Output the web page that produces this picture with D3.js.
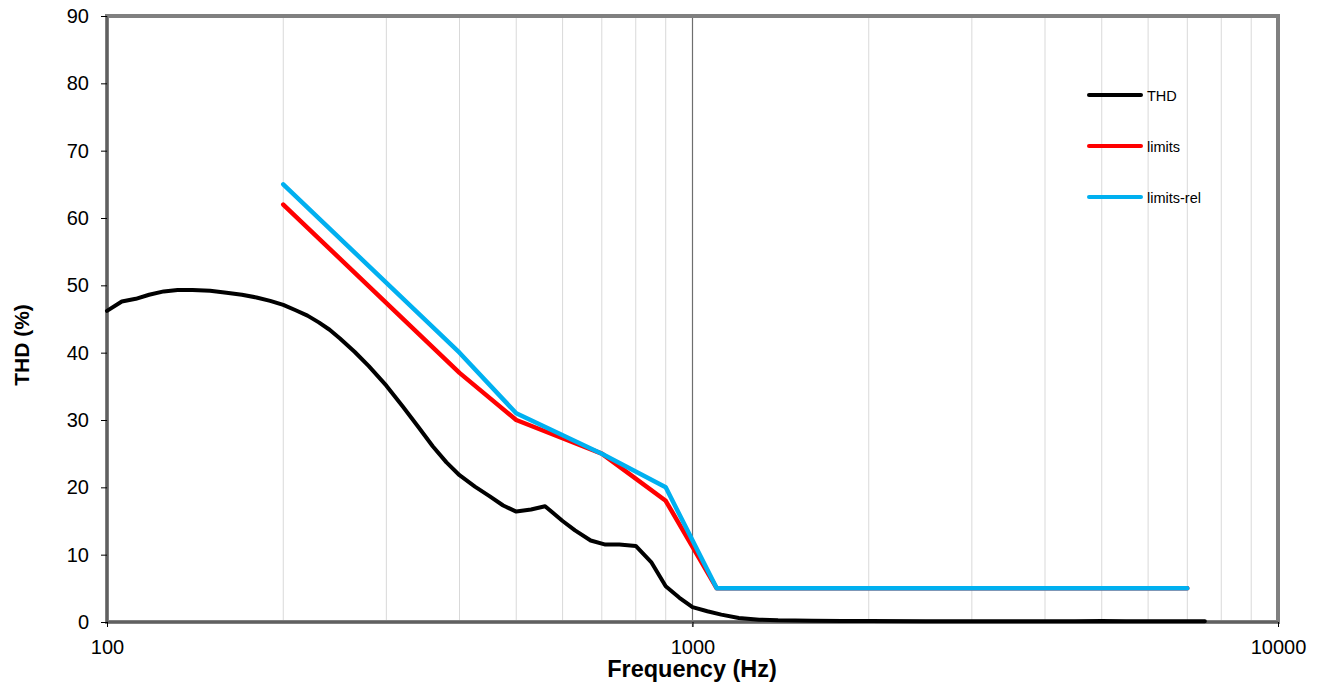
<!DOCTYPE html>
<html><head><meta charset="utf-8">
<script src="https://cdn.jsdelivr.net/npm/d3@7"></script>
<style>body{margin:0;background:#fff}svg{display:block;font-family:"Liberation Sans",Arial,sans-serif}</style>
</head><body><svg id="c" width="1317" height="688"></svg>
<script>
const thdFreq = [100,106,112,118,125,132,140,150,160,170,180,190,200,210,220,230,240,250,265,280,300,320,340,360,380,400,425,450,475,500,530,560,600,630,670,710,750,800,850,900,950,1000,1060,1120,1200,1300,1400,1600,1800,2000,2500,3000,3500,4000,4500,5000,5500,6000,7000,7500];
const thdVal  = [46.2,47.6,48.0,48.6,49.1,49.3,49.3,49.2,48.9,48.6,48.2,47.7,47.1,46.3,45.5,44.5,43.4,42.1,40.1,38.0,35.1,32.0,29.0,26.1,23.7,21.8,20.1,18.7,17.3,16.4,16.7,17.2,15.0,13.6,12.1,11.5,11.5,11.3,8.9,5.3,3.6,2.2,1.6,1.1,0.6,0.35,0.25,0.2,0.15,0.15,0.1,0.1,0.1,0.1,0.1,0.15,0.1,0.1,0.1,0.1];
const limFreq = [200,400,500,700,900,1100,7000];
const limVal  = [62,37,30,25,18,5,5];
const relFreq = [200,400,500,700,900,1100,7000];
const relVal  = [65,40,31,25,20,5,5];
const yTicks = [0,10,20,30,40,50,60,70,80,90];
const xTicks = [100,1000,10000];
const seriesNames = ["THD","limits","limits-rel"];
const seriesColors = ["#000000","#ff0000","#00b0f0"];

const svg = d3.select("#c");
const L=107, R=1278, T=16, B=622;
const x = d3.scaleLog().domain([100,10000]).range([L,R]);
const y = d3.scaleLinear().domain([0,90]).range([B,T]);

// minor gridlines
const minor = [];
[100,1000].forEach(d=>{for(let k=2;k<=9;k++) minor.push(d*k);});
svg.append("g").selectAll("line").data(minor).join("line")
  .attr("x1",d=>x(d)).attr("x2",d=>x(d)).attr("y1",T).attr("y2",B)
  .attr("stroke","#d9d9d9").attr("stroke-width",1);
// major gridline
svg.append("line").attr("x1",x(1000)).attr("x2",x(1000)).attr("y1",T).attr("y2",B+5)
  .attr("stroke","#6e6e6e").attr("stroke-width",1.2);

// border
svg.append("rect").attr("x",L).attr("y",T).attr("width",R-L).attr("height",B-T)
  .attr("fill","none").attr("stroke","#808080").attr("stroke-width",4);
svg.append("line").attr("x1",L).attr("x2",L).attr("y1",T).attr("y2",B).attr("stroke","#404040").attr("stroke-width",1);
svg.append("line").attr("x1",L).attr("x2",R).attr("y1",B).attr("y2",B).attr("stroke","#404040").attr("stroke-width",1);

// axes
const ya = svg.append("g").attr("transform",`translate(${L},0)`)
  .call(d3.axisLeft(y).tickValues(yTicks).tickSize(6).tickPadding(12).tickFormat(d3.format("d")));
ya.select(".domain").remove();
ya.selectAll("line").attr("stroke","#000");
ya.selectAll("text").attr("font-size",20).attr("fill","#000").style("font-family","Liberation Sans, Arial, sans-serif");

const xa = svg.append("g").attr("transform",`translate(0,${B})`)
  .call(d3.axisBottom(x).tickValues(xTicks).tickSize(5).tickPadding(13).tickFormat(d3.format("d")));
xa.select(".domain").remove();
xa.selectAll("line").attr("stroke","#000");
xa.selectAll("text").attr("font-size",20).attr("fill","#000").style("font-family","Liberation Sans, Arial, sans-serif");

// lines
const line = d3.line().x(d=>x(d[0])).y(d=>y(d[1]));
const series = [
  d3.zip(thdFreq,thdVal),
  d3.zip(limFreq,limVal),
  d3.zip(relFreq,relVal)
];
series.forEach((s,i)=>{
  svg.append("path").datum(s).attr("d",line).attr("fill","none")
    .attr("stroke",seriesColors[i]).attr("stroke-width",i===0?4:4.5)
    .attr("stroke-linejoin","round").attr("stroke-linecap","round");
});

// legend
const lg = svg.append("g");
seriesNames.forEach((n,i)=>{
  const yy = 95 + i*51;
  lg.append("line").attr("x1",1089).attr("x2",1141).attr("y1",yy).attr("y2",yy)
    .attr("stroke",seriesColors[i]).attr("stroke-width",4).attr("stroke-linecap","round");
  lg.append("text").attr("x",1147).attr("y",yy+6).attr("font-size",14.5).attr("fill","#000").text(n);
});

// axis titles
svg.append("text").attr("x",692).attr("y",677).attr("text-anchor","middle")
  .attr("font-size",23.5).attr("font-weight","bold").text("Frequency (Hz)");
svg.append("text").attr("transform","translate(29,345) rotate(-90)").attr("text-anchor","middle")
  .attr("font-size",21).attr("font-weight","bold").text("THD (%)");
</script></body></html>
